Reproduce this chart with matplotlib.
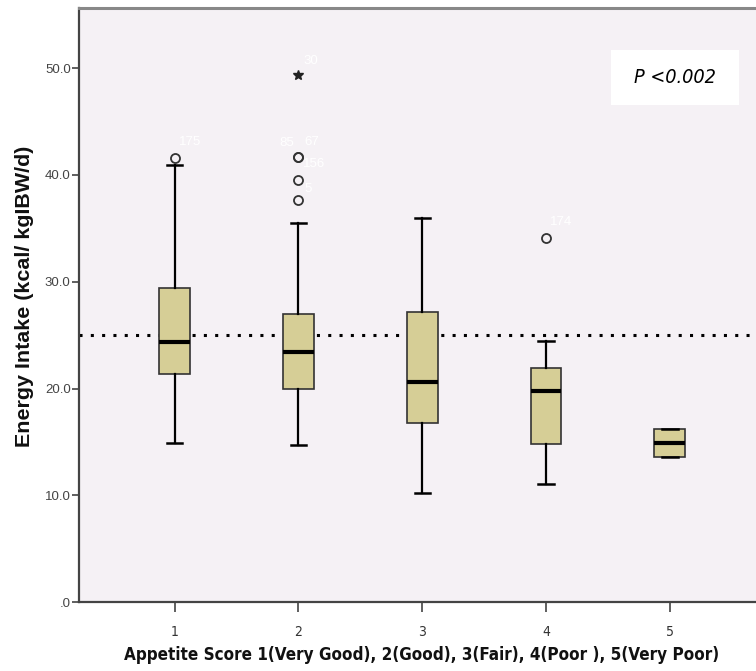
import matplotlib
matplotlib.use("Agg")
import matplotlib.pyplot as plt
from matplotlib.patches import Rectangle

# ---- data ----
groups = [1, 2, 3, 4, 5]
whisker_low = [14.9, 14.7, 10.2, 11.1, 13.6]
q1 = [21.35, 20.0, 16.8, 14.85, 13.6]
median = [24.4, 23.4, 20.6, 19.8, 14.9]
q3 = [29.4, 27.0, 27.2, 21.9, 16.2]
whisker_high = [40.9, 35.5, 36.0, 24.5, 16.2]
outliers = [[41.6], [41.7, 41.7, 39.5, 37.7], [], [34.1], []]
outlier_ids = [["175"], ["85", "67", "156", "5"], [], ["174"], []]
extreme_group = [2]
extreme_value = [49.4]
extreme_id = ["30"]
reference_line = 25.0
y_ticks = [0, 10, 20, 30, 40, 50]
y_tick_labels = [".0", "10.0", "20.0", "30.0", "40.0", "50.0"]
x_label = "Appetite Score 1(Very Good), 2(Good), 3(Fair), 4(Poor ), 5(Very Poor)"
y_label = "Energy Intake (kcal/ kgIBW/d)"
p_text = "P <0.002"

SANS = ["Liberation Sans", "DejaVu Sans"]
COND = dict(family="DejaVu Sans", fontstretch="condensed")

fig = plt.figure(figsize=(7.56, 6.71), dpi=100)
ax = fig.add_axes([0.1045, 0.1024, 0.8955, 0.8852])
ax.set_facecolor("#F5F1F5")

stats = []
for i, g in enumerate(groups):
    stats.append(dict(med=median[i], q1=q1[i], q3=q3[i],
                      whislo=whisker_low[i], whishi=whisker_high[i],
                      fliers=outliers[i], label=str(g)))

ax.bxp(stats, positions=groups, widths=0.248, patch_artist=True,
       boxprops=dict(facecolor="#D6CE96", edgecolor="#333333", linewidth=1.2),
       medianprops=dict(color="black", linewidth=3),
       whiskerprops=dict(color="black", linewidth=1.6),
       capprops=dict(color="black", linewidth=1.8),
       capwidths=0.125,
       flierprops=dict(marker="o", markerfacecolor="none",
                       markeredgecolor="#333333", markersize=6.5,
                       markeredgewidth=1.3),
       zorder=3)

ax.plot(extreme_group, extreme_value, linestyle="none", marker="*",
        color="#222222", markersize=7, zorder=4)

# outlier case labels (white)
offsets = {"175": (4, 16, "left"), "85": (-4, 14, "right"), "67": (6, 15, "left"),
           "156": (4, 16, "left"), "5": (6, 11, "left"), "174": (4, 16, "left")}
for i, g in enumerate(groups):
    for v, lab in zip(outliers[i], outlier_ids[i]):
        dx, dy, ha = offsets[lab]
        ax.annotate(lab, (g, v), xytext=(dx, dy), textcoords="offset pixels",
                    ha=ha, va="center", color="white", fontsize=9.5, family=SANS)
for g, v, lab in zip(extreme_group, extreme_value, extreme_id):
    ax.annotate(lab, (g, v), xytext=(5, 14), textcoords="offset pixels",
                ha="left", va="center", color="white", fontsize=9.5, family=SANS)

ax.axhline(reference_line, color="black", linewidth=2.2,
           linestyle=(0, (1, 2.7)), dash_capstyle="butt", zorder=2)

ax.set_xlim(0.227, 5.696)
ax.set_ylim(0, 55.6)
ax.set_xticks(groups)
ax.set_xticklabels([str(g) for g in groups], fontsize=10, color="#333333", **COND)
ax.set_yticks(y_ticks)
ax.set_yticklabels(y_tick_labels, family=SANS, fontsize=9.5, color="#444444")
ax.tick_params(axis="y", length=5, width=1.2, color="#444444", pad=1)
ax.tick_params(axis="x", length=7, width=1.2, color="#444444", pad=9)

for s in ["left", "bottom"]:
    ax.spines[s].set_color("#444444")
    ax.spines[s].set_linewidth(1.6)
ax.spines["top"].set_color("#888888")
ax.spines["top"].set_linewidth(2.2)
ax.spines["right"].set_visible(False)

# axis titles placed in figure pixels
H = 671.0
xl = fig.text(422 / 756, 1 - 655 / H, x_label, ha="center", va="center",
              fontsize=13, fontweight="bold", color="#111111", **COND)
yl = fig.text(25 / 756, 1 - 296 / H, y_label, ha="center", va="center",
              rotation=90, fontsize=12, fontweight="bold", color="#111111",
              family=SANS)

# P-value box
ax.add_patch(Rectangle((0.7858, 0.8372), 0.1891, 0.0926, transform=ax.transAxes,
                       facecolor="white", edgecolor="none", zorder=5))
pt = ax.text(0.880, 0.8827, p_text, transform=ax.transAxes, ha="center",
             va="center", fontsize=17, style="italic", color="black",
             zorder=6, **COND)

# fit text widths to the reference
fig.canvas.draw()
r = fig.canvas.get_renderer()
for t, target, horiz in [(xl, 595, True), (yl, 300, False), (pt, 82, True)]:
    bb = t.get_window_extent(r)
    size = bb.width if horiz else bb.height
    t.set_fontsize(t.get_fontsize() * target / size)

fig.savefig("out.png", dpi=100, facecolor="white")
